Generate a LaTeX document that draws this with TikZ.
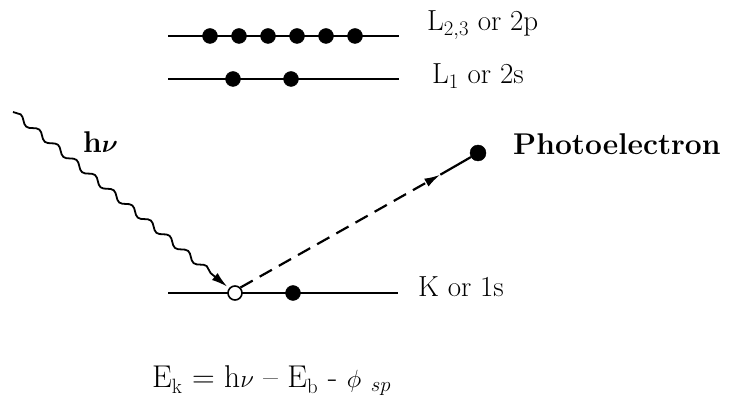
\documentclass[tikz,border=0pt]{standalone}
\usetikzlibrary{calc,arrows.meta,decorations.pathmorphing}
\begin{document}
\begin{tikzpicture}[x=1pt,y=-1pt,
  level/.style={line width=2.5pt},
  edot/.style={circle,fill=black,draw=black,minimum size=15pt,inner sep=0pt},
  hole/.style={circle,fill=white,draw=black,line width=1.6pt,minimum size=14pt,inner sep=0pt},
  lbl/.style={anchor=base west,inner sep=0pt,font=\fontsize{29}{33}\selectfont},
  blbl/.style={anchor=base west,inner sep=0pt,font=\fontsize{30}{35}\selectfont\bfseries\boldmath},
  tip/.style={-{Latex[length=16pt,width=9pt]}}]
\useasboundingbox (0,0) rectangle (732,398);
% L2,3 level
\coordinate (a1) at (168,36);
\coordinate (a2) at (399,36);
\draw[level] (a1) -- (a2);
\foreach \i/\x in {1/210,2/239,3/268,4/297,5/326,6/355}
  \node[edot] (p\i) at (\x,36) {};
\node[lbl] (lp) at (427,31) {L$_{2,3}$ or 2p};
% L1 level
\coordinate (b1) at (168,79);
\coordinate (b2) at (399,79);
\draw[level] (b1) -- (b2);
\node[edot] (s1) at (233,79) {};
\node[edot] (s2) at (291,79) {};
\node[lbl] (ls) at (432,84) {L$_1$ or 2s};
% K level
\coordinate (k1) at (168,293);
\coordinate (k2) at (398,293);
\draw[level] (k1) -- (k2);
\node[hole] (h) at (235,293) {};
\node[edot] (k) at (293,293) {};
\node[lbl] (lk) at (418,297) {K or 1s};
% photoelectron
\node[edot,minimum size=16pt] (pe) at (478,153) {};
\node[blbl] (lpe) at (513,155) {Photoelectron};
\coordinate (m) at ($(h)!0.845!(pe)$);
\draw[line width=2.2pt,dash pattern=on 14pt off 8pt,tip] (h.north east) -- (m);
\draw[line width=2.2pt] (m) -- (pe);
% photon
\coordinate (ph) at (13,112);
\draw[line width=1.8pt,tip,decorate,decoration={snake,amplitude=3pt,segment length=24pt,post length=16pt}]
  (ph) -- ($(h)!10pt!(ph)$);
\node[blbl] (hv) at (83,153) {h$\nu$};
% equation
\node[lbl,font=\fontsize{31.5}{36}\selectfont] (eq) at (152,388) {E$_{\mathrm{k}}$ = h$\nu$ -- E$_{\mathrm{b}}$ - $\phi$ $_{sp}$};
\end{tikzpicture}
\end{document}
